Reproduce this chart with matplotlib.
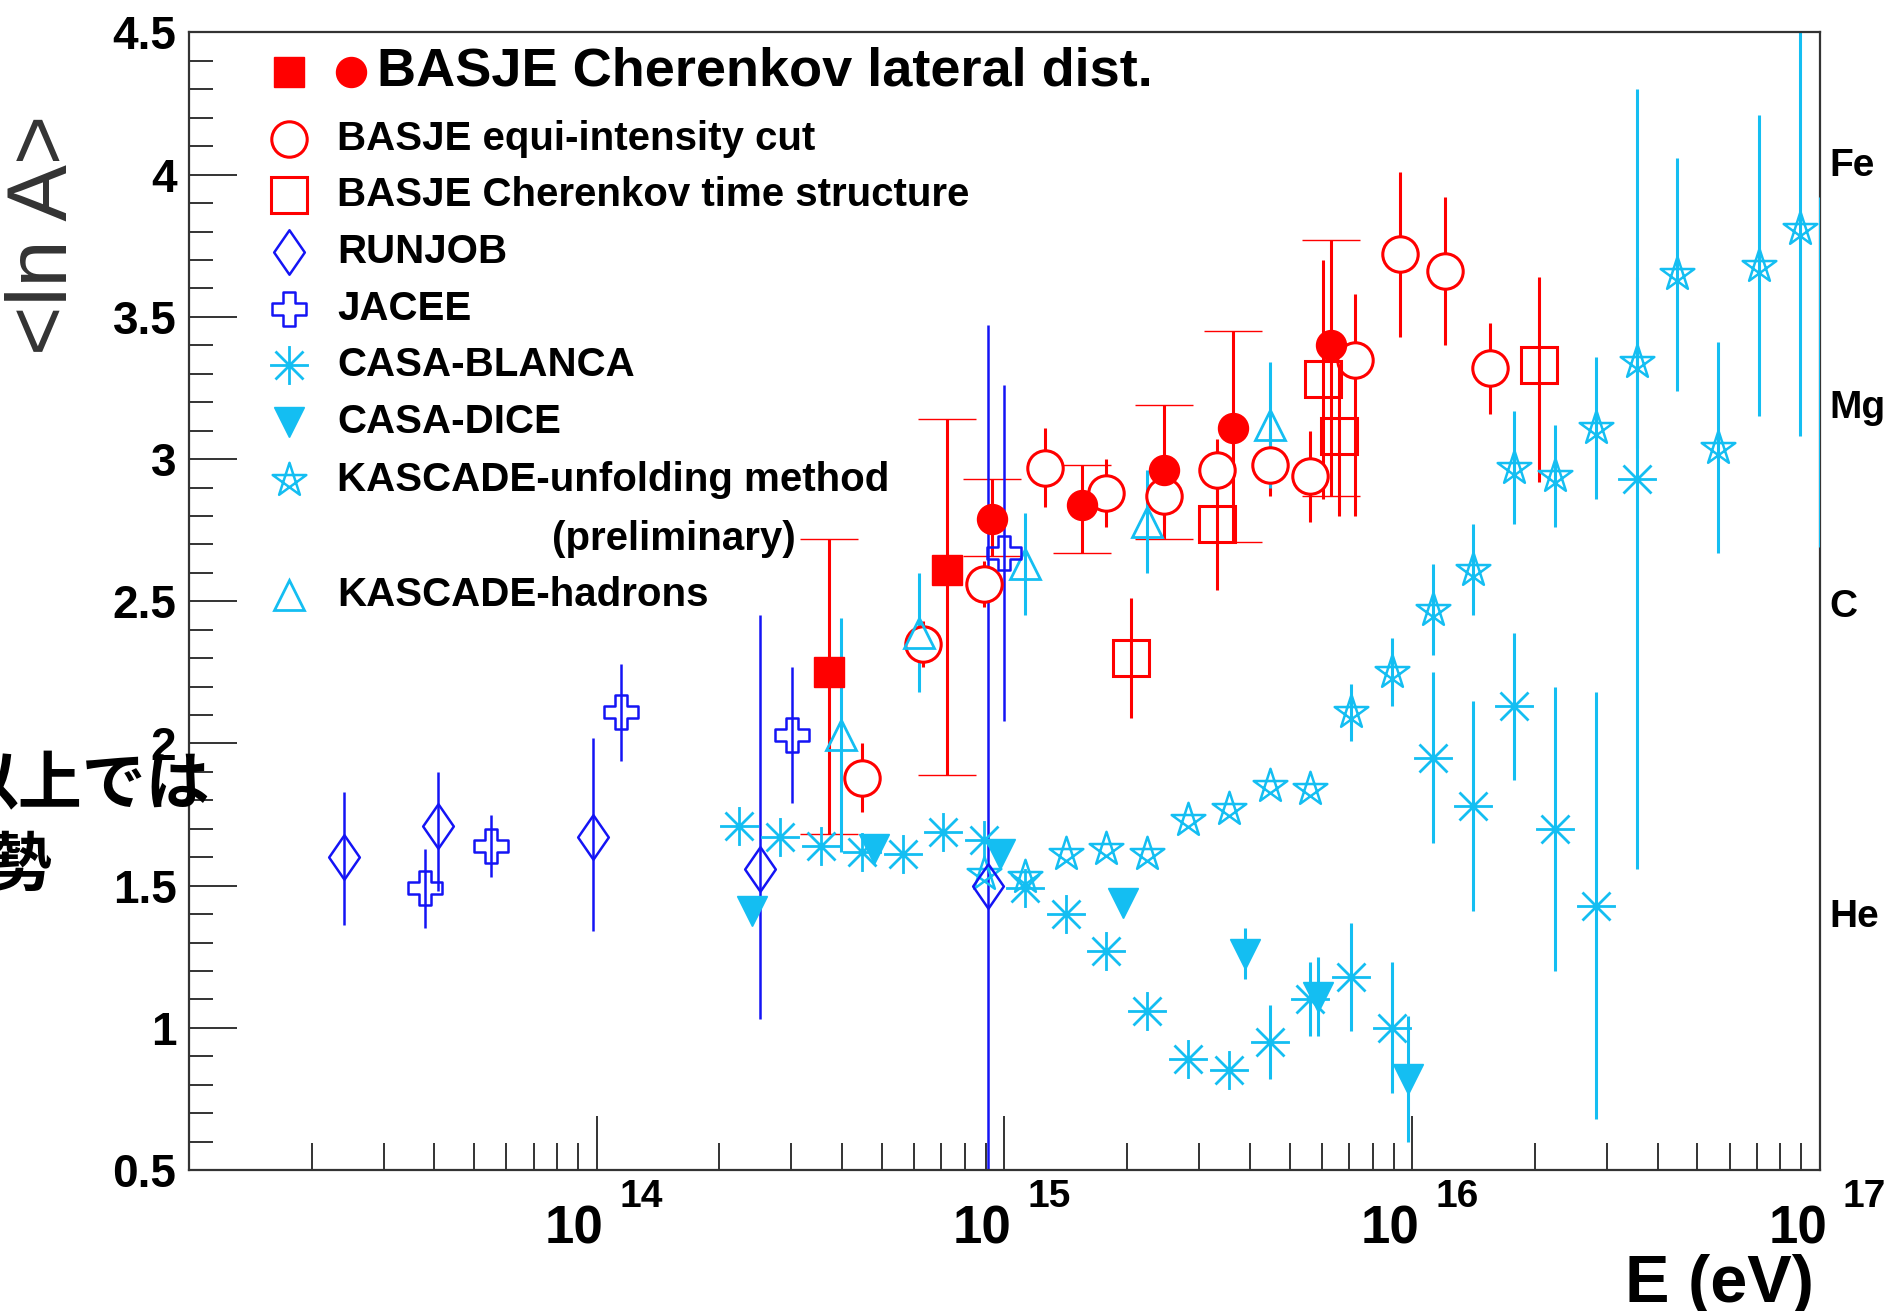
import numpy as np
import matplotlib.pyplot as plt
from matplotlib.path import Path
from matplotlib.transforms import blended_transform_factory, offset_copy
from matplotlib.ticker import MultipleLocator, LogLocator, NullFormatter, FuncFormatter

plt.rcParams['font.family'] = ['Liberation Sans', 'DejaVu Sans']
plt.rcParams['font.weight'] = 'bold'

RED = '#ff0000'
BLUE = '#1414f5'
CYAN = '#14bef2'
FRAME = '#333333'

# ---- data: log10(E/eV), <ln A>, lower / upper error -------------------------
# BASJE Cherenkov lateral distribution (filled squares + filled circles)
lat_sq_lgE = [14.57, 14.86]
lat_sq_lnA = [2.25, 2.61]
lat_sq_elo = [0.57, 0.72]
lat_sq_ehi = [0.47, 0.53]

lat_ci_lgE = [14.97, 15.19, 15.39, 15.56, 15.80]
lat_ci_lnA = [2.79, 2.84, 2.96, 3.11, 3.40]
lat_ci_elo = [0.13, 0.17, 0.24, 0.40, 0.53]
lat_ci_ehi = [0.14, 0.14, 0.23, 0.34, 0.37]

# BASJE equi-intensity cut
equi_lgE = [14.65, 14.80, 14.95, 15.10, 15.25, 15.39, 15.52, 15.65, 15.75, 15.86, 15.97, 16.08, 16.19]
equi_lnA = [1.88, 2.35, 2.56, 2.97, 2.88, 2.87, 2.96, 2.98, 2.94, 3.35, 3.72, 3.66, 3.32]
equi_elo = [0.12, 0.08, 0.08, 0.14, 0.12, 0.10, 0.10, 0.11, 0.16, 0.55, 0.29, 0.26, 0.16]
equi_ehi = [0.12, 0.08, 0.08, 0.14, 0.12, 0.10, 0.11, 0.11, 0.16, 0.23, 0.29, 0.26, 0.16]

# BASJE Cherenkov time structure
time_lgE = [15.31, 15.52, 15.78, 15.82, 16.31]
time_lnA = [2.30, 2.77, 3.28, 3.08, 3.33]
time_elo = [0.21, 0.23, 0.42, 0.28, 0.41]
time_ehi = [0.21, 0.20, 0.42, 0.28, 0.31]

# RUNJOB
runjob_lgE = [13.38, 13.61, 13.99, 14.40, 14.96]
runjob_lnA = [1.60, 1.71, 1.67, 1.56, 1.50]
runjob_elo = [0.24, 0.23, 0.33, 0.53, 1.97]
runjob_ehi = [0.23, 0.19, 0.35, 0.89, 1.97]

# JACEE
jacee_lgE = [13.58, 13.74, 14.06, 14.48, 15.00]
jacee_lnA = [1.49, 1.64, 2.11, 2.03, 2.67]
jacee_err = [0.14, 0.11, 0.17, 0.24, 0.59]

# CASA-BLANCA
cb_lgE = [14.35, 14.45, 14.55, 14.65, 14.75, 14.85, 14.95, 15.05, 15.15, 15.25, 15.35, 15.45,
          15.55, 15.65, 15.75, 15.85, 15.95, 16.05, 16.15, 16.25, 16.35, 16.45, 16.55]
cb_lnA = [1.71, 1.67, 1.64, 1.62, 1.61, 1.69, 1.66, 1.49, 1.40, 1.27, 1.06, 0.89,
          0.85, 0.95, 1.10, 1.18, 1.00, 1.95, 1.78, 2.13, 1.70, 1.43, 2.93]
cb_err = [0, 0, 0, 0, 0, 0, 0, 0, 0, 0, 0, 0,
          0, 0.13, 0.13, 0.19, 0.23, 0.30, 0.37, 0.26, 0.50, 0.75, 1.37]

# CASA-DICE
dice_lgE = [14.38, 14.68, 14.99, 15.29, 15.59, 15.77, 15.99]
dice_lnA = [1.41, 1.63, 1.61, 1.44, 1.26, 1.11, 0.82]
dice_err = [0, 0, 0, 0, 0.09, 0.14, 0.22]

# KASCADE unfolding method (preliminary)
kun_lgE = [14.95, 15.05, 15.15, 15.25, 15.35, 15.45, 15.55, 15.65, 15.75, 15.85, 15.95,
           16.05, 16.15, 16.25, 16.35, 16.45, 16.55, 16.65, 16.75, 16.85, 16.95]
kun_lnA = [1.54, 1.53, 1.61, 1.63, 1.61, 1.73, 1.77, 1.85, 1.84, 2.11, 2.25,
           2.47, 2.61, 2.97, 2.94, 3.11, 3.34, 3.65, 3.04, 3.68, 3.81]
kun_err = [0, 0, 0, 0, 0, 0, 0, 0, 0, 0.10, 0.12,
           0.16, 0.16, 0.20, 0.18, 0.25, 0.30, 0.41, 0.37, 0.53, 0.73]
# error bar of a point sitting on the right frame edge
kun_edge_lgE = 17.0
kun_edge_lo = 2.69
kun_edge_hi = 3.92

# KASCADE hadrons
khad_lgE = [14.60, 14.79, 15.05, 15.35, 15.65]
khad_lnA = [2.03, 2.39, 2.63, 2.78, 3.12]
khad_err = [0.41, 0.21, 0.18, 0.18, 0.22]

# element reference lines on the right
elements = ['Fe', 'Mg', 'C', 'He']
element_lnA = [4.03, 3.18, 2.48, 1.39]

decades = [14, 15, 16, 17]


# ---- marker shapes ----------------------------------------------------------
def poly(verts):
    verts = list(verts) + [(0, 0)]
    codes = [Path.MOVETO] + [Path.LINETO] * (len(verts) - 2) + [Path.CLOSEPOLY]
    return Path(verts, codes)


diamond = poly([(0, 1), (0.69, 0), (0, -1), (-0.69, 0)])
a = 0.36
open_cross = poly([(-1, -a), (-a, -a), (-a, -1), (a, -1), (a, -a), (1, -a),
                   (1, a), (a, a), (a, 1), (-a, 1), (-a, a), (-1, a)])
ang = np.deg2rad(90 + 144 * np.arange(5))
pentagram = poly(list(zip(np.cos(ang), np.sin(ang))))
d = 0.72
asterisk = Path([(-1, 0), (1, 0), (0, -1), (0, 1), (-d, -d), (d, d), (-d, d), (d, -d)],
                [Path.MOVETO, Path.LINETO] * 4)

st_lat_sq = dict(marker='s', ms=21, mfc=RED, mec=RED, mew=1)
st_lat_ci = dict(marker='o', ms=21.6, mfc=RED, mec=RED, mew=1)
st_equi = dict(marker='o', ms=25.5, mfc='white', mec=RED, mew=2.2)
st_time = dict(marker='s', ms=25.5, mfc='none', mec=RED, mew=2.2)
st_runjob = dict(marker=diamond, ms=32, mfc='none', mec=BLUE, mew=1.8)
st_jacee = dict(marker=open_cross, ms=24, mfc='none', mec=BLUE, mew=1.8)
st_cb = dict(marker=asterisk, ms=28, mfc='none', mec=CYAN, mew=2.0)
st_dice = dict(marker='v', ms=21, mfc=CYAN, mec=CYAN, mew=1)
st_kun = dict(marker=pentagram, ms=25.5, mfc='none', mec=CYAN, mew=1.8)
st_khad = dict(marker='^', ms=22, mfc='none', mec=CYAN, mew=2.0)

fig = plt.figure(figsize=(18.9, 13.11), dpi=100)
ax = fig.add_axes([0.1, 0.10755, 0.86296, 0.86766])
ax.set_xscale('log')


def series(lgE, lnA, elo, ehi, color, style, lw=2.2, caps=0):
    x = 10 ** np.asarray(lgE, dtype=float)
    ax.errorbar(x, lnA, yerr=[elo, ehi], ls='none', ecolor=color, elinewidth=lw,
                capsize=caps, capthick=lw, **style)


# red first, cyan over it, blue on top
series(equi_lgE, equi_lnA, equi_elo, equi_ehi, RED, st_equi)
series(time_lgE, time_lnA, time_elo, time_ehi, RED, st_time)
series(lat_sq_lgE, lat_sq_lnA, lat_sq_elo, lat_sq_ehi, RED, st_lat_sq, caps=21)
series(lat_ci_lgE, lat_ci_lnA, lat_ci_elo, lat_ci_ehi, RED, st_lat_ci, caps=21)

series(cb_lgE, cb_lnA, cb_err, cb_err, CYAN, st_cb)
series(dice_lgE, dice_lnA, dice_err, dice_err, CYAN, st_dice)
series(kun_lgE, kun_lnA, kun_err, kun_err, CYAN, st_kun)
series(khad_lgE, khad_lnA, khad_err, khad_err, CYAN, st_khad)
ax.vlines(10 ** kun_edge_lgE, kun_edge_lo, kun_edge_hi, color=CYAN, lw=2.2, zorder=3)

series(runjob_lgE, runjob_lnA, runjob_elo, runjob_ehi, BLUE, st_runjob, lw=1.8)
series(jacee_lgE, jacee_lnA, jacee_err, jacee_err, BLUE, st_jacee, lw=1.8)

ax.set_xlim(1e13, 1e17)
ax.set_ylim(0.5, 4.5)

# ---- axes styling (ROOT look) ------------------------------------------------
for sp in ax.spines.values():
    sp.set_color(FRAME)
    sp.set_linewidth(1.6)

ax.yaxis.set_major_locator(MultipleLocator(0.5))
ax.yaxis.set_minor_locator(MultipleLocator(0.1))
ax.yaxis.set_major_formatter(FuncFormatter(lambda v, p: f'{v:g}'))
ax.xaxis.set_major_locator(LogLocator(base=10))
ax.xaxis.set_minor_locator(LogLocator(base=10, subs=np.arange(2, 10)))
ax.xaxis.set_major_formatter(NullFormatter())
ax.xaxis.set_minor_formatter(NullFormatter())

ax.tick_params(axis='y', which='major', direction='in', length=34.6, width=1.4,
               color=FRAME, labelsize=33, pad=9, right=False)
ax.tick_params(axis='y', which='minor', direction='in', length=17.3, width=1.4,
               color=FRAME, right=False)
ax.tick_params(axis='x', which='major', direction='in', length=38.9, width=1.4,
               color=FRAME, top=False)
ax.tick_params(axis='x', which='minor', direction='in', length=19.4, width=1.4,
               color=FRAME, top=False)

# x tick labels as "10" with raised exponent
xb = blended_transform_factory(ax.transData, ax.transAxes)
for dec in decades:
    t10 = offset_copy(xb, fig=fig, x=7, y=-73, units='dots')
    tex = offset_copy(xb, fig=fig, x=23, y=-37, units='dots')
    ax.text(10.0 ** dec, 0, '10', transform=t10, ha='right', va='baseline',
            fontsize=38, clip_on=False)
    ax.text(10.0 ** dec, 0, str(dec), transform=tex, ha='left', va='baseline',
            fontsize=28, clip_on=False)

# element labels on the right
yb = blended_transform_factory(ax.transAxes, ax.transData)
for name, v in zip(elements, element_lnA):
    ax.text(1.006, v, name, transform=yb, ha='left', va='center', fontsize=28,
            clip_on=False)

# axis titles
fig.text(0.0238, 0.8207, '<ln A>', rotation=90, ha='center', va='center',
         fontsize=61, fontweight='normal', color='#333333')
fig.text(0.9598, 0.0069, 'E (eV)', ha='right', va='baseline', fontsize=48)

# ---- legend (drawn by hand, ROOT style) ------------------------------------
mx, tx = 0.0613, 0.0910
ax.plot([mx], [0.9653], ls='none', transform=ax.transAxes, clip_on=False, **st_lat_sq)
ax.plot([0.0993], [0.9653], ls='none', transform=ax.transAxes, clip_on=False, **st_lat_ci)
ax.text(0.1153, 0.9653, 'BASJE Cherenkov lateral dist.', transform=ax.transAxes,
        ha='left', va='center', fontsize=39)

legend_rows = [
    (0.9064, st_equi, 'BASJE equi-intensity cut'),
    (0.8571, st_time, 'BASJE Cherenkov time structure'),
    (0.8070, st_runjob, 'RUNJOB'),
    (0.7569, st_jacee, 'JACEE'),
    (0.7077, st_cb, 'CASA-BLANCA'),
    (0.6576, st_dice, 'CASA-DICE'),
    (0.6066, st_kun, 'KASCADE-unfolding method'),
    (0.5055, st_khad, 'KASCADE-hadrons'),
]
for ly, st, label in legend_rows:
    ax.plot([mx], [ly], ls='none', transform=ax.transAxes, clip_on=False, **st)
    ax.text(tx, ly, label, transform=ax.transAxes, ha='left', va='center', fontsize=29)
ax.text(0.2226, 0.5547, '(preliminary)', transform=ax.transAxes, ha='left',
        va='center', fontsize=29)

# fragment of slide text cut at the left edge
jp = ['Noto Sans CJK JP', 'DejaVu Sans']
fig.text(-46 / 1890, 1 - 785 / 1311, '以上では', family=jp, fontsize=46,
         fontweight='bold', ha='left', va='center', zorder=10)
fig.text(-12 / 1890, 1 - 866 / 1311, '勢', family=jp, fontsize=46,
         fontweight='bold', ha='left', va='center', zorder=10)

fig.savefig('out.png', dpi=100)
